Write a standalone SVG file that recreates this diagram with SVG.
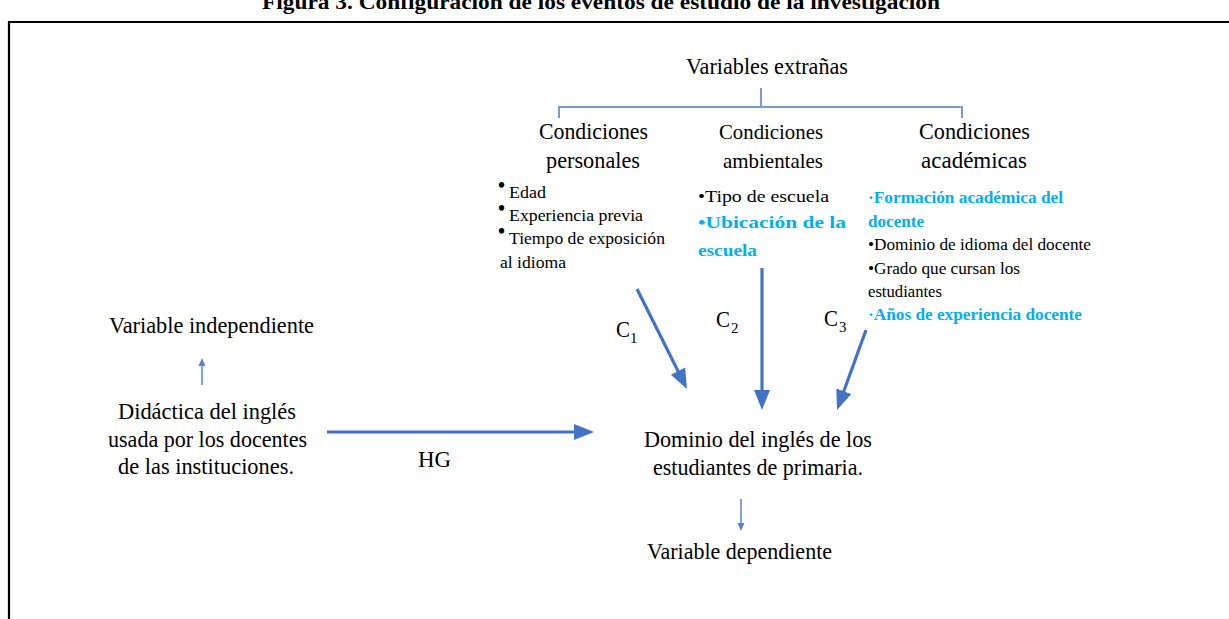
<svg xmlns="http://www.w3.org/2000/svg" width="1229" height="619" viewBox="0 0 1229 619">
<defs>
<style>
text{font-family:"Liberation Serif","Times New Roman",serif;fill:#000}
.t{font-size:24px}
.m{font-size:22px}
.s{font-size:17.5px}
.sub{font-size:15px}
.bul{font-size:20px;font-weight:bold}
.b{fill:#00B0F0;font-weight:bold}
.title{font-size:20px;font-weight:bold}
.thick{stroke:#4472C4;stroke-width:3.2;fill:none}
.thin{stroke:#5B82CC;stroke-width:1.5;fill:none}
.brk{stroke:#7A9AD2;stroke-width:2;fill:none}
</style>
<marker id="ah" markerUnits="userSpaceOnUse" markerWidth="20" markerHeight="18" refX="8" refY="9" orient="auto">
<path d="M0,1 L20,9 L0,17 z" fill="#4472C4"/>
</marker>
<marker id="as" markerUnits="userSpaceOnUse" markerWidth="8" markerHeight="8" refX="3" refY="4" orient="auto">
<path d="M0,0.5 L8,4 L0,7.5 z" fill="#5B82CC"/>
</marker>
</defs>
<rect width="1229" height="619" fill="#fff"/>
<text class="title" x="601" y="9" text-anchor="middle" textLength="678" lengthAdjust="spacingAndGlyphs">Figura 3. Configuración de los eventos de estudio de la investigación</text>
<path d="M9,619 V22 H1229" stroke="#000" stroke-width="2.2" fill="none"/>

<g id="connectors">
<path class="brk" d="M559,118 V107 H962 V118 M761,107 V88"/>
<line class="thick" x1="637" y1="289" x2="681.6" y2="378.3" marker-end="url(#ah)"/>
<line class="thick" x1="762" y1="268" x2="762" y2="398" marker-end="url(#ah)"/>
<line class="thick" x1="866" y1="330" x2="841.1" y2="398.7" marker-end="url(#ah)"/>
<line class="thick" x1="327" y1="432" x2="582" y2="432" marker-end="url(#ah)"/>
<line class="thin" x1="202" y1="385" x2="202" y2="363" marker-end="url(#as)"/>
<line class="thin" x1="741" y1="499" x2="741" y2="526" marker-end="url(#as)"/>
<text class="t" x="616" y="337" textLength="14" lengthAdjust="spacingAndGlyphs">C</text><text class="sub" x="630" y="343">1</text>
<text class="t" x="716" y="327" textLength="14" lengthAdjust="spacingAndGlyphs">C</text><text class="sub" x="731" y="333">2</text>
<text class="t" x="824" y="326" textLength="14" lengthAdjust="spacingAndGlyphs">C</text><text class="sub" x="839" y="332">3</text>
<text class="t" x="418" y="467" textLength="33" lengthAdjust="spacingAndGlyphs">HG</text>
</g>

<g id="extranas">
<text class="t" x="686" y="74" textLength="162" lengthAdjust="spacingAndGlyphs">Variables extrañas</text>
</g>

<g id="personales">
<text class="t" x="539" y="139" textLength="109" lengthAdjust="spacingAndGlyphs">Condiciones</text>
<text class="t" x="546" y="168" textLength="94" lengthAdjust="spacingAndGlyphs">personales</text>
<text class="bul" x="498" y="192">•</text>
<text class="s" x="509" y="198" textLength="37" lengthAdjust="spacingAndGlyphs">Edad</text>
<text class="bul" x="498" y="215">•</text>
<text class="s" x="509" y="221" textLength="134" lengthAdjust="spacingAndGlyphs">Experiencia previa</text>
<text class="bul" x="498" y="238">•</text>
<text class="s" x="509" y="244" textLength="156" lengthAdjust="spacingAndGlyphs">Tiempo de exposición</text>
<text class="s" x="500" y="268" textLength="66" lengthAdjust="spacingAndGlyphs">al idioma</text>
</g>

<g id="ambientales">
<text class="m" x="719" y="139" textLength="104" lengthAdjust="spacingAndGlyphs">Condiciones</text>
<text class="m" x="723" y="168" textLength="100" lengthAdjust="spacingAndGlyphs">ambientales</text>
<text class="s" x="698" y="202" textLength="131" lengthAdjust="spacingAndGlyphs">•Tipo de escuela</text>
<text class="s b" x="698" y="228" textLength="148" lengthAdjust="spacingAndGlyphs">•Ubicación de la</text>
<text class="s b" x="698" y="256" textLength="59" lengthAdjust="spacingAndGlyphs">escuela</text>
</g>

<g id="academicas">
<text class="t" x="919" y="139" textLength="111" lengthAdjust="spacingAndGlyphs">Condiciones</text>
<text class="t" x="921" y="168" textLength="106" lengthAdjust="spacingAndGlyphs">académicas</text>
<text class="s b" x="868" y="203" textLength="195" lengthAdjust="spacingAndGlyphs">·Formación académica del</text>
<text class="s b" x="868" y="227" textLength="56" lengthAdjust="spacingAndGlyphs">docente</text>
<text class="s" x="868" y="250" textLength="223" lengthAdjust="spacingAndGlyphs">•Dominio de idioma del docente</text>
<text class="s" x="868" y="274" textLength="152" lengthAdjust="spacingAndGlyphs">•Grado que cursan los</text>
<text class="s" x="868" y="297" textLength="74" lengthAdjust="spacingAndGlyphs">estudiantes</text>
<text class="s b" x="868" y="320" textLength="214" lengthAdjust="spacingAndGlyphs">·Años de experiencia docente</text>
</g>

<g id="independiente">
<text class="t" x="109" y="333" textLength="205" lengthAdjust="spacingAndGlyphs">Variable independiente</text>
</g>

<g id="didactica">
<text class="t" x="118" y="419" textLength="178" lengthAdjust="spacingAndGlyphs">Didáctica del inglés</text>
<text class="t" x="108" y="447" textLength="199" lengthAdjust="spacingAndGlyphs">usada por los docentes</text>
<text class="t" x="118" y="474" textLength="176" lengthAdjust="spacingAndGlyphs">de las instituciones.</text>
</g>

<g id="dominio">
<text class="t" x="644" y="447" textLength="228" lengthAdjust="spacingAndGlyphs">Dominio del inglés de los</text>
<text class="t" x="653" y="475" textLength="210" lengthAdjust="spacingAndGlyphs">estudiantes de primaria.</text>
</g>

<g id="dependiente">
<text class="t" x="647" y="559" textLength="185" lengthAdjust="spacingAndGlyphs">Variable dependiente</text>
</g>
</svg>
